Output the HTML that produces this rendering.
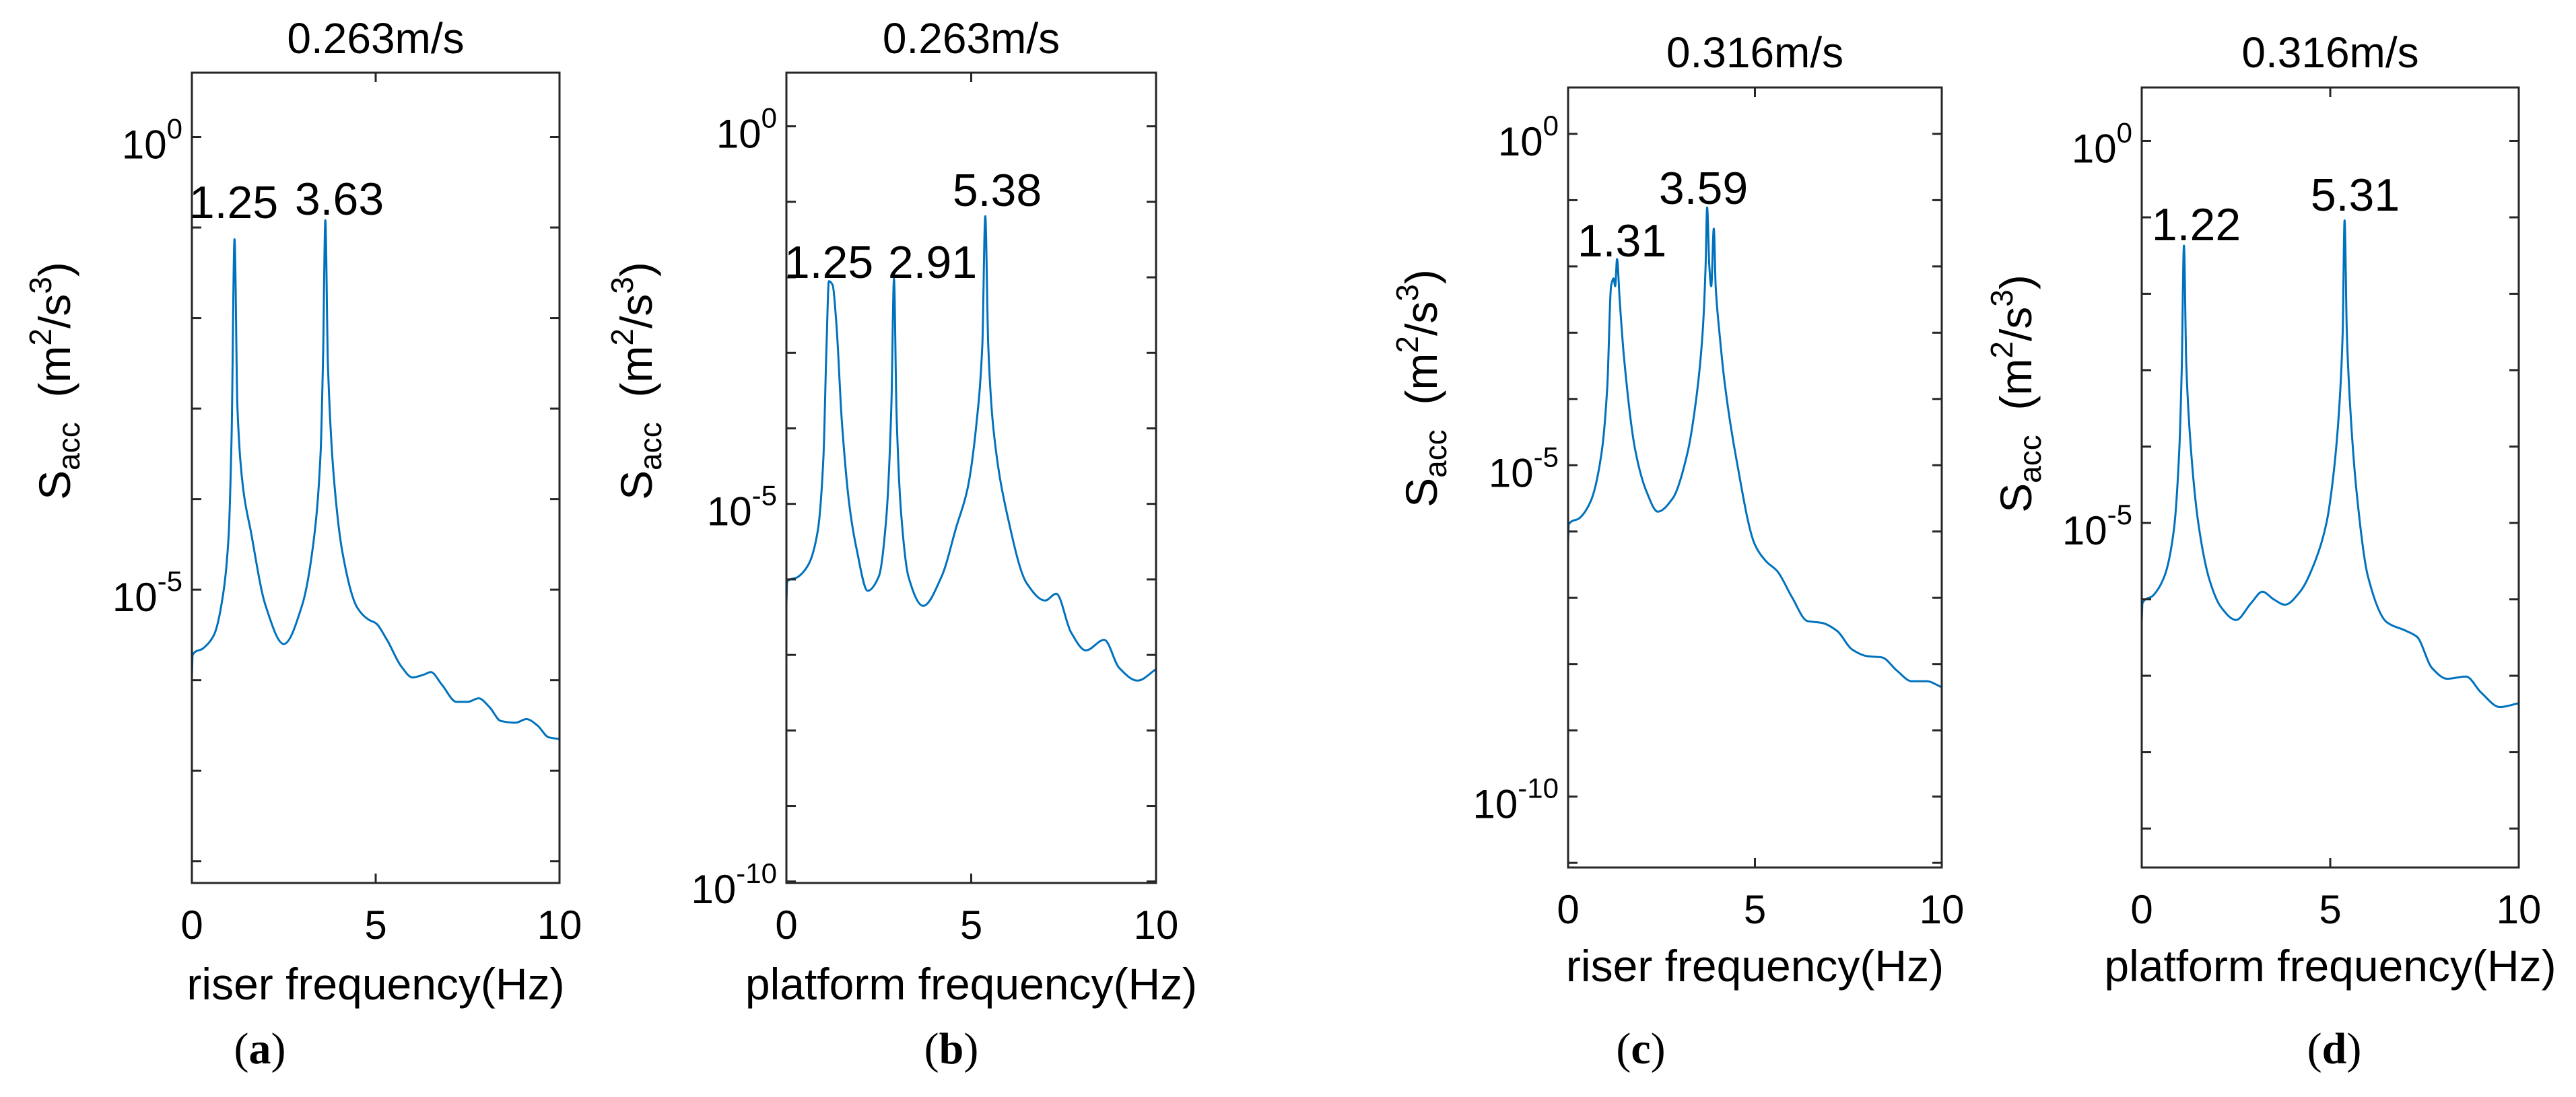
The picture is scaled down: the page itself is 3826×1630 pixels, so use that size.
<!DOCTYPE html>
<html><head><meta charset="utf-8">
<style>
html,body{margin:0;padding:0;background:#fff;}
svg{display:block;}
text{font-family:"Liberation Sans",sans-serif;fill:#000;}
</style></head>
<body>
<svg id="fig" width="3826" height="1630" viewBox="0 0 3826 1630" xmlns="http://www.w3.org/2000/svg"></svg>
<script>
// ---- data (log10 of S_acc) ----
const freqA = [0,0.02,0.3,0.6,0.85,1.0,1.08,1.16,1.24,1.4,1.6,2.0,2.5,3.0,3.3,3.5,3.57,3.63,3.7,3.85,4.1,4.5,4.8,5.0,5.3,5.7,6.0,6.3,6.5,6.8,7.2,7.5,7.8,8.1,8.4,8.8,9.1,9.4,9.7,10];
const logSA = [-5.98,-5.72,-5.65,-5.5,-5.05,-4.4,-3.3,-1.13,-3.0,-3.9,-4.35,-5.17,-5.6,-5.17,-4.5,-3.5,-2.4,-0.92,-2.5,-3.7,-4.6,-5.2,-5.33,-5.37,-5.55,-5.85,-5.97,-5.94,-5.91,-6.05,-6.24,-6.24,-6.2,-6.3,-6.45,-6.47,-6.43,-6.5,-6.63,-6.65];
const freqB = [0,0.02,0.3,0.6,0.85,1.0,1.08,1.15,1.25,1.35,1.5,1.7,1.9,2.2,2.5,2.7,2.84,2.91,2.98,3.1,3.3,3.7,4.2,4.6,4.9,5.15,5.3,5.38,5.46,5.6,6.0,6.5,7.0,7.3,7.7,8.1,8.6,9.0,9.5,10];
const logSB = [-6.33,-6.03,-5.97,-5.8,-5.35,-4.4,-3.0,-2.05,-2.1,-2.6,-3.9,-5.0,-5.6,-6.15,-5.96,-5.2,-3.7,-2.02,-3.8,-5.1,-5.96,-6.35,-5.96,-5.3,-4.8,-3.9,-2.9,-1.19,-2.9,-4.0,-5.2,-6.05,-6.28,-6.19,-6.7,-6.94,-6.8,-7.17,-7.34,-7.19];
const freqC = [0,0.02,0.3,0.6,0.9,1.05,1.15,1.22,1.26,1.31,1.38,1.5,1.8,2.1,2.4,2.8,3.2,3.45,3.6,3.68,3.72,3.78,3.83,3.9,3.95,4.05,4.2,4.5,5.0,5.3,5.6,6.0,6.4,6.8,7.2,7.6,8.0,8.4,8.8,9.2,9.6,10];
const logSC = [-6.16,-5.89,-5.8,-5.55,-4.8,-3.8,-2.3,-2.18,-2.3,-1.89,-2.5,-3.4,-4.78,-5.4,-5.7,-5.5,-4.8,-3.9,-3.0,-2.0,-1.11,-2.0,-2.3,-1.43,-2.3,-3.0,-3.8,-4.9,-6.2,-6.45,-6.6,-7.0,-7.35,-7.38,-7.5,-7.78,-7.88,-7.9,-8.1,-8.26,-8.26,-8.35];
const freqD = [0,0.02,0.3,0.6,0.85,1.0,1.06,1.12,1.18,1.3,1.5,1.8,2.1,2.5,2.9,3.2,3.5,3.8,4.2,4.6,4.9,5.1,5.25,5.33,5.38,5.44,5.52,5.7,6.0,6.5,7.0,7.3,7.7,8.1,8.6,9.0,9.5,10];
const logSD = [-6.3,-6.05,-5.95,-5.7,-5.1,-4.0,-3.0,-1.37,-2.9,-4.0,-5.0,-5.75,-6.1,-6.27,-6.05,-5.9,-6.0,-6.07,-5.9,-5.5,-5.0,-4.3,-3.4,-2.5,-1.04,-2.5,-3.4,-4.6,-5.7,-6.3,-6.41,-6.49,-6.9,-7.04,-7.01,-7.22,-7.41,-7.36];
const xTicks = [0,5,10];
const titles = ["0.263m/s","0.263m/s","0.316m/s","0.316m/s"];
const xLabels = ["riser frequency(Hz)","platform frequency(Hz)","riser frequency(Hz)","platform frequency(Hz)"];
const subLabels = ["a","b","c","d"];
const peakTextA = ["1.25","3.63"];
const peakTextB = ["1.25","2.91","5.38"];
const peakTextC = ["1.31","3.59"];
const peakTextD = ["1.22","5.31"];
const yLabelExpA = [0,-5];
const yLabelExpB = [0,-5,-10];
const yLabelExpC = [0,-5,-10];
const yLabelExpD = [0,-5];

const NS="http://www.w3.org/2000/svg";
const svg=document.getElementById('fig');
function el(tag,attrs,parent){const e=document.createElementNS(NS,tag);for(const k in attrs)e.setAttribute(k,attrs[k]);(parent||svg).appendChild(e);return e;}

function smoothPath(P){
  const n=P.length;
  if(n<2)return '';
  const dx=[],m=[];
  for(let i=0;i<n-1;i++){dx.push(P[i+1][0]-P[i][0]);m.push((P[i+1][1]-P[i][1])/dx[i]);}
  const t=new Array(n);
  t[0]=m[0];t[n-1]=m[n-2];
  for(let i=1;i<n-1;i++){
    if(m[i-1]*m[i]<=0)t[i]=0;
    else{const w1=2*dx[i]+dx[i-1],w2=dx[i]+2*dx[i-1];t[i]=(w1+w2)/(w1/m[i-1]+w2/m[i]);}
  }
  let d='M'+P[0][0].toFixed(1)+','+P[0][1].toFixed(1);
  for(let i=0;i<n-1;i++){
    const h=dx[i]/3;
    d+='C'+(P[i][0]+h).toFixed(1)+','+(P[i][1]+t[i]*h).toFixed(1)+' '+(P[i+1][0]-h).toFixed(1)+','+(P[i+1][1]-t[i+1]*h).toFixed(1)+' '+P[i+1][0].toFixed(1)+','+P[i+1][1].toFixed(1);
  }
  return d;
}

const panels=[
 {L:285,R:831,T:108,B:1312,ymax:0.71,ymin:-8.24,fx:freqA,fy:logSA,lab:yLabelExpA,peaks:peakTextA,
  pk:[[347,324],[504,319]],titleY:79,tickY:1395,xlY:1485,yLX:82,yLY:566,subX:386},
 {L:1168,R:1717,T:108,B:1312,ymax:0.71,ymin:-10.02,fx:freqB,fy:logSB,lab:yLabelExpB,peaks:peakTextB,
  pk:[[1231,413],[1385,413],[1481,306]],titleY:79,tickY:1395,xlY:1485,yLX:946,yLY:566,subX:1413},
 {L:2329,R:2884,T:130,B:1289,ymax:0.70,ymin:-11.07,fx:freqC,fy:logSC,lab:yLabelExpC,peaks:peakTextC,
  pk:[[2409,381],[2530,303]],titleY:100,tickY:1372,xlY:1458,yLX:2112,yLY:577,subX:2437},
 {L:3181,R:3741,T:130,B:1289,ymax:0.70,ymin:-9.51,fx:freqD,fy:logSD,lab:yLabelExpD,peaks:peakTextD,
  pk:[[3262,357],[3498,313]],titleY:100,tickY:1372,xlY:1458,yLX:2995,yLY:585,subX:3467}
];

panels.forEach((p,i)=>{
  const g=el('g',{});
  
  
  const xs=f=>p.L+(f/10)*(p.R-p.L);
  const ys=v=>p.T+(p.ymax-v)/(p.ymax-p.ymin)*(p.B-p.T);
  const pts=p.fx.map((f,k)=>[xs(f),ys(p.fy[k])]);
  const line=el('path',{d:smoothPath(pts),fill:'none',stroke:'#0072BD','stroke-width':3,'stroke-linejoin':'round'},g);
  
  
  const box=el('rect',{x:p.L,y:p.T,width:p.R-p.L,height:p.B-p.T,fill:'none',stroke:'#262626','stroke-width':3},g);
  
  
  xTicks.forEach(t=>{
    const x=xs(t);
    el('line',{x1:x,y1:p.B,x2:x,y2:p.B-14,stroke:'#262626','stroke-width':3},g);
    el('line',{x1:x,y1:p.T,x2:x,y2:p.T+14,stroke:'#262626','stroke-width':3},g);
    const tl=el('text',{x:x,y:p.tickY,'font-size':60,'text-anchor':'middle',fill:'#262626'},g);
    tl.textContent=String(t);
    
    
  });
  for(let e=Math.floor(p.ymax);e>=Math.ceil(p.ymin);e--){
    const y=ys(e);
    el('line',{x1:p.L,y1:y,x2:p.L+14,y2:y,stroke:'#262626','stroke-width':3},g);
    el('line',{x1:p.R,y1:y,x2:p.R-14,y2:y,stroke:'#262626','stroke-width':3},g);
  }
  p.lab.forEach(e=>{
    const y=ys(e);
    const t=el('text',{x:p.L-14,y:y+32,'font-size':60,'text-anchor':'end',fill:'#262626'},g);
    
    
    const a=el('tspan',{},t);a.textContent='10';
    const b=el('tspan',{dy:-30,'font-size':42},t);b.textContent=String(e);
  });
  const tt=el('text',{x:(p.L+p.R)/2,y:p.titleY,'font-size':64,'text-anchor':'middle'},g);
  tt.textContent=titles[i];
  
  
  const xl=el('text',{x:(p.L+p.R)/2,y:p.xlY,'font-size':66,'text-anchor':'middle',fill:'#262626'},g);
  xl.textContent=xLabels[i];
  
  
  const yl=el('text',{x:0,y:0,'font-size':66,'text-anchor':'middle',fill:'#262626',transform:`translate(${p.yLX+22},${p.yLY}) rotate(-90)`},g);
  
  
  const s1=el('tspan',{},yl);s1.textContent='S';
  const s2=el('tspan',{dy:14,'font-size':46},yl);s2.textContent='acc';
  const s3=el('tspan',{dy:-14},yl);s3.textContent='\u00a0 (m';
  const s4=el('tspan',{dy:-28,'font-size':46},yl);s4.textContent='2';
  const s5=el('tspan',{dy:28},yl);s5.textContent='/s';
  const s6=el('tspan',{dy:-28,'font-size':46},yl);s6.textContent='3';
  const s7=el('tspan',{dy:28},yl);s7.textContent=')';
  p.peaks.forEach((txt,k)=>{
    const pt=el('text',{x:p.pk[k][0],y:p.pk[k][1],'font-size':68,'text-anchor':'middle'},g);
    pt.textContent=txt;
    
    
  });
  const sl=el('text',{x:p.subX,y:1580,'font-size':66,'text-anchor':'middle'},g);
  sl.setAttribute('style','font-family:"Liberation Serif",serif');
  
  
  const q1=el('tspan',{},sl);q1.textContent='(';
  const q2=el('tspan',{'font-weight':'bold'},sl);q2.textContent=subLabels[i];
  const q3=el('tspan',{},sl);q3.textContent=')';
});
</script>
</body></html>
